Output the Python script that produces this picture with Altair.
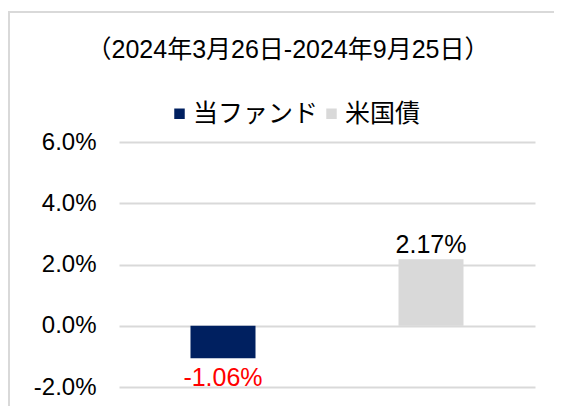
import altair as alt
import pandas as pd

categories = ["当ファンド", "米国債"]
values = [-1.06, 2.17]
colors = ["#002060", "#d9d9d9"]
y_ticks = [-2, 0, 2, 4, 6]
title_text = "（2024年3月26日-2024年9月25日）"

FONT = "Liberation Sans, Arial, Noto Sans CJK JP, sans-serif"

df = pd.DataFrame({"name": categories, "value": values})
base = alt.Chart(df)

x_enc = alt.X(
    "name:N",
    sort=categories,
    axis=None,
    scale=alt.Scale(paddingInner=0.6875, paddingOuter=0.34375),
)
y_enc = alt.Y(
    "value:Q",
    title=None,
    scale=alt.Scale(domain=[-2, 6], nice=False, zero=False),
    axis=alt.Axis(
        values=y_ticks,
        labelExpr="(datum.value < 0 ? '-' : '') + format(abs(datum.value), '.1f') + '%'",
        grid=True,
        gridColor="#d9d9d9",
        gridWidth=2,
        domain=False,
        ticks=False,
        labelPadding=23,
        labelFontSize=24,
        labelFont=FONT,
        labelColor="#000000",
    ),
)

frame = alt.Chart(pd.DataFrame({"k": [0]})).mark_rule(
    stroke="#d9d9d9", strokeWidth=2
).encode(
    x=alt.value(-110), x2=alt.value(460), y=alt.value(-130), y2=alt.value(-130)
)
frame_left = alt.Chart(pd.DataFrame({"k": [0]})).mark_rule(
    stroke="#d9d9d9", strokeWidth=2
).encode(
    x=alt.value(-110), x2=alt.value(-110), y=alt.value(-131), y2=alt.value(300)
)

bars = base.mark_bar().encode(
    x=x_enc,
    y=y_enc,
    color=alt.Color(
        "name:N",
        sort=categories,
        scale=alt.Scale(domain=categories, range=colors),
        legend=alt.Legend(
            title=None,
            orient="none",
            legendX=48,
            legendY=-41,
            direction="horizontal",
            symbolType="square",
            symbolSize=110,
            symbolStrokeWidth=0,
            labelOffset=1,
            columnPadding=-16,
            labelFontSize=25,
            labelFont=FONT,
            labelColor="#000000",
        ),
    ),
)

pos_labels = base.transform_filter("datum.value >= 0").transform_calculate(
    label="format(datum.value, '.2f') + '%'"
).mark_text(
    dy=-6, baseline="alphabetic", fontSize=25, font=FONT, color="#000000"
).encode(x=x_enc, y=y_enc, text="label:N")

neg_labels = base.transform_filter("datum.value < 0").transform_calculate(
    label="'-' + format(abs(datum.value), '.2f') + '%'"
).mark_text(
    dy=28, baseline="alphabetic", fontSize=25, font=FONT, color="#ff0000"
).encode(x=x_enc, y=y_enc, text="label:N")

chart = alt.layer(frame, frame_left, bars, pos_labels, neg_labels).properties(
    width=416,
    height=245,
    title=alt.TitleParams(
        text=title_text,
        anchor="middle",
        frame="group",
        dx=-39,
        offset=-73,
        fontSize=25,
        font=FONT,
        fontWeight="normal",
        color="#000000",
        baseline="alphabetic",
    ),
    autosize=alt.AutoSizeParams(type="none"),
    padding={"left": 111, "top": 134, "right": 19, "bottom": 19},
).configure_view(strokeWidth=0)

chart.save("out.html", embed_options={"renderer": "svg", "actions": False})
